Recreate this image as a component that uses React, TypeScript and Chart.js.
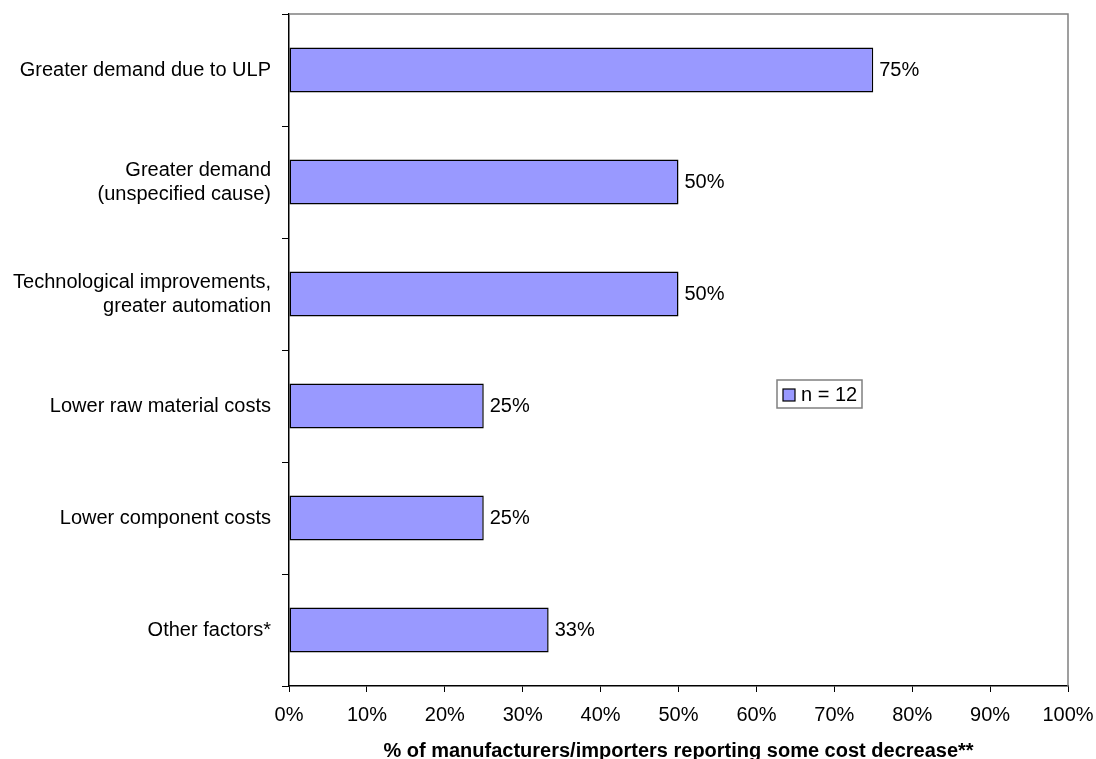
import React, { useEffect, useRef } from "react";
import { Chart, registerables } from "chart.js";

Chart.register(...registerables);

const categories: string[][] = [
  ["Greater demand due to ULP"],
  ["Greater demand", "(unspecified cause)"],
  ["Technological improvements,", "greater automation"],
  ["Lower raw material costs"],
  ["Lower component costs"],
  ["Other factors*"],
];
const values: number[] = [75, 50, 50, 25, 25, 33.33];
const valueLabels: string[] = ["75%", "50%", "50%", "25%", "25%", "33%"];
const seriesLabel = "n = 12";
const xAxisTitle = "% of manufacturers/importers reporting some cost decrease**";
const xMin = 0;
const xMax = 100;
const xStep = 10;

const FONT = "'Liberation Sans', Arial, Helvetica, sans-serif";
const BAR_FILL = "#9999FF";

const valueLabelPlugin = {
  id: "valueLabels",
  afterDatasetsDraw(chart: any) {
    const ctx = chart.ctx;
    const meta = chart.getDatasetMeta(0);
    ctx.save();
    ctx.font = `20px ${FONT}`;
    ctx.fillStyle = "#000";
    ctx.textAlign = "left";
    ctx.textBaseline = "middle";
    meta.data.forEach((el: any, i: number) => {
      ctx.fillText(valueLabels[i], el.x + 6, el.y);
    });
    ctx.restore();
  },
};

const frameAndLegendPlugin = {
  id: "frameAndLegend",
  afterDraw(chart: any) {
    const ctx = chart.ctx;
    const a = chart.chartArea;
    ctx.save();
    // top and right frame
    ctx.strokeStyle = "#808080";
    ctx.lineWidth = 1.5;
    ctx.beginPath();
    ctx.moveTo(a.left, a.top);
    ctx.lineTo(a.right, a.top);
    ctx.lineTo(a.right, a.bottom);
    ctx.stroke();

    // legend box
    const bx = 777;
    const by = 380;
    const bw = 85;
    const bh = 28;
    ctx.fillStyle = "#fff";
    ctx.fillRect(bx, by, bw, bh);
    ctx.strokeStyle = "#808080";
    ctx.lineWidth = 1.5;
    ctx.strokeRect(bx, by, bw, bh);
    const ds = chart.data.datasets[0];
    ctx.fillStyle = ds.backgroundColor;
    ctx.fillRect(bx + 6, by + 9, 12, 12);
    ctx.strokeStyle = "#000";
    ctx.lineWidth = 1.2;
    ctx.strokeRect(bx + 6, by + 9, 12, 12);
    ctx.fillStyle = "#000";
    ctx.font = `20px ${FONT}`;
    ctx.textAlign = "left";
    ctx.textBaseline = "middle";
    ctx.fillText(ds.label, bx + 24, by + bh / 2 + 1);
    ctx.restore();
  },
};

export default function App() {
  const ref = useRef<HTMLCanvasElement | null>(null);

  useEffect(() => {
    if (!ref.current) return;
    const chart = new Chart(ref.current, {
      type: "bar",
      data: {
        labels: categories,
        datasets: [
          {
            label: seriesLabel,
            data: values,
            backgroundColor: BAR_FILL,
            borderColor: "#000",
            borderWidth: 1.5,
            borderSkipped: false,
            categoryPercentage: 1,
            barPercentage: 0.4,
          },
        ],
      },
      options: {
        indexAxis: "y",
        responsive: false,
        animation: false,
        maintainAspectRatio: false,
        layout: { padding: { top: 14, right: 28, left: 0, bottom: 0 } },
        plugins: {
          legend: { display: false },
          tooltip: { enabled: false },
        },
        scales: {
          x: {
            type: "linear",
            min: xMin,
            max: xMax,
            afterFit: (scale: any) => {
              scale.height = 73;
              scale.paddingLeft = 0;
              scale.paddingRight = 0;
            },
            ticks: {
              stepSize: xStep,
              callback: (v: any) => `${v}%`,
              color: "#000",
              font: { family: FONT, size: 20 },
              padding: 11,
              maxRotation: 0,
              autoSkip: false,
            },
            grid: {
              drawOnChartArea: false,
              drawTicks: true,
              tickLength: 6,
              color: "#000",
              lineWidth: 1,
            },
            border: { color: "#000", width: 1.5 },
            title: {
              display: true,
              text: xAxisTitle,
              color: "#000",
              font: { family: FONT, size: 20, weight: "bold" },
              padding: { top: 0, bottom: -4 },
            },
          },
          y: {
            type: "category",
            afterFit: (scale: any) => {
              scale.width = 289;
              scale.paddingTop = 0;
              scale.paddingBottom = 0;
            },
            ticks: {
              color: "#000",
              font: { family: FONT, size: 20, lineHeight: 1.2 },
              padding: 11,
              autoSkip: false,
            },
            grid: {
              offset: true,
              drawOnChartArea: false,
              drawTicks: true,
              tickLength: 7,
              color: "#000",
              lineWidth: 1,
            },
            border: { color: "#000", width: 1.5 },
          },
        },
      },
      plugins: [valueLabelPlugin, frameAndLegendPlugin],
    } as any);
    return () => chart.destroy();
  }, []);

  return (
    <div
      style={{
        position: "fixed",
        left: 0,
        top: 0,
        width: 1096,
        height: 759,
        background: "#fff",
      }}
    >
      <canvas ref={ref} width={1096} height={759} style={{ display: "block" }} />
    </div>
  );
}
